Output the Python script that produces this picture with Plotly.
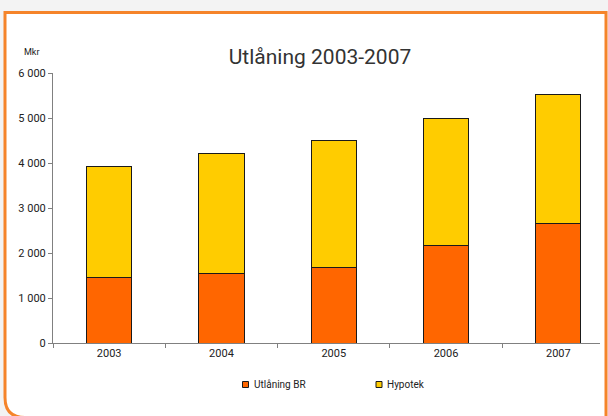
import plotly.graph_objects as go

# ---- data ----
years = ["2003", "2004", "2005", "2006", "2007"]
utlaning_br = [1460, 1550, 1680, 2160, 2650]
hypotek = [2470, 2670, 2820, 2830, 2870]
series_names = ["Utlåning BR", "Hypotek"]
series_colors = ["#FF6600", "#FFCC00"]
y_tickvals = [0, 1000, 2000, 3000, 4000, 5000, 6000]
y_ticktext = ["0", "1 000", "2 000", "3 000", "4 000", "5 000", "6 000"]
title_text = "Utlåning 2003-2007"
unit_text = "Mkr"

# ---- layout geometry (pixels) ----
W, H = 608, 416
L, R, T, B = 53, 8, 73, 73
PW, PH = W - L - R, H - T - B
FONT = "Roboto"

def px(x):
    return (x - L) / PW

def py(y):
    return (H - B - y) / PH

fig = go.Figure()
for name, vals, col in zip(series_names, [utlaning_br, hypotek], series_colors):
    fig.add_trace(go.Bar(
        x=years, y=vals, name=name, showlegend=False,
        marker=dict(color=col, line=dict(color="#1a1a1a", width=1)),
    ))

# frame (orange border, rounded bottom-left corner)
r = 20
bl, bt, br_, bb = 5, 12.5, 606, 417.5
path = (f"M {px(bl)},{py(bt)} L {px(br_)},{py(bt)} L {px(br_)},{py(bb+20)} "
        f"L {px(bl+r)},{py(bb+20)} L {px(bl+r)},{py(bb)} "
        f"Q {px(bl)},{py(bb)} {px(bl)},{py(bb-r)} Z")
path_fill = (f"M {px(bl)},{py(bt)} L {px(br_)},{py(bt)} L {px(br_)},{py(bb+20)} "
             f"L {px(bl+r)},{py(bb+20)} L {px(bl+r)},{py(bb)} "
             f"Q {px(bl)},{py(bb)} {px(bl)},{py(bb-r)} Z")
shapes = [
    dict(type="path", xref="paper", yref="paper", path=path_fill,
         fillcolor="white", line=dict(width=0), layer="below"),
    dict(type="path", xref="paper", yref="paper",
         path=(f"M {px(br_)},{py(bb+20)} L {px(br_)},{py(bt)} L {px(bl)},{py(bt)} "
               f"L {px(bl)},{py(bb-r)} Q {px(bl)},{py(bb)} {px(bl+r)},{py(bb)} "
               f"L {px(br_)},{py(bb)}"),
         line=dict(color="#F5842A", width=3), layer="above"),
]

# manual legend
annotations = []
legend_pos = [(245.5, 252), (379, 385)]
for (sx, tx), name, col in zip(legend_pos, series_names, series_colors):
    shapes.append(dict(type="rect", xref="paper", yref="paper",
                       x0=px(sx - 3), x1=px(sx + 3), y0=py(387.5), y1=py(381.5),
                       fillcolor=col, line=dict(color="#1a1a1a", width=1)))
    annotations.append(dict(xref="paper", yref="paper", x=px(tx), y=py(384.5),
                            text=name, showarrow=False, xanchor="left", yanchor="middle",
                            font=dict(family=FONT, size=10, color="#222")))

annotations.append(dict(xref="paper", yref="paper", x=px(31), y=py(52.5),
                        text=unit_text, showarrow=False, xanchor="center", yanchor="middle",
                        font=dict(family=FONT, size=9, color="#222")))

fig.update_layout(
    width=W, height=H,
    margin=dict(l=L, r=R, t=T, b=B, pad=0),
    barmode="stack", bargap=0.597,
    paper_bgcolor="#f3f3f3", plot_bgcolor="rgba(0,0,0,0)",
    font=dict(family=FONT, size=11, color="#222"),
    title=dict(text=title_text, xref="container", yref="container",
               x=320 / W, y=1 - 57 / H, xanchor="center", yanchor="middle",
               font=dict(family=FONT, size=21, color="#333")),
    xaxis=dict(type="category", range=[-0.5, -0.5 + PW / 112.3],
               showline=True, linecolor="#808080", linewidth=1,
               ticks="outside", tickson="boundaries", ticklen=4, tickcolor="#808080",
               showgrid=False, zeroline=False,
               tickfont=dict(family=FONT, size=11, color="#222")),
    yaxis=dict(range=[0, 6000], tickvals=y_tickvals, ticktext=y_ticktext,
               showline=True, linecolor="#808080", linewidth=1,
               ticks="outside", ticklen=4, tickcolor="#808080",
               showgrid=False, zeroline=False,
               tickfont=dict(family=FONT, size=11, color="#222")),
    shapes=shapes, annotations=annotations,
    showlegend=False,
)

fig.write_html("out.html")
